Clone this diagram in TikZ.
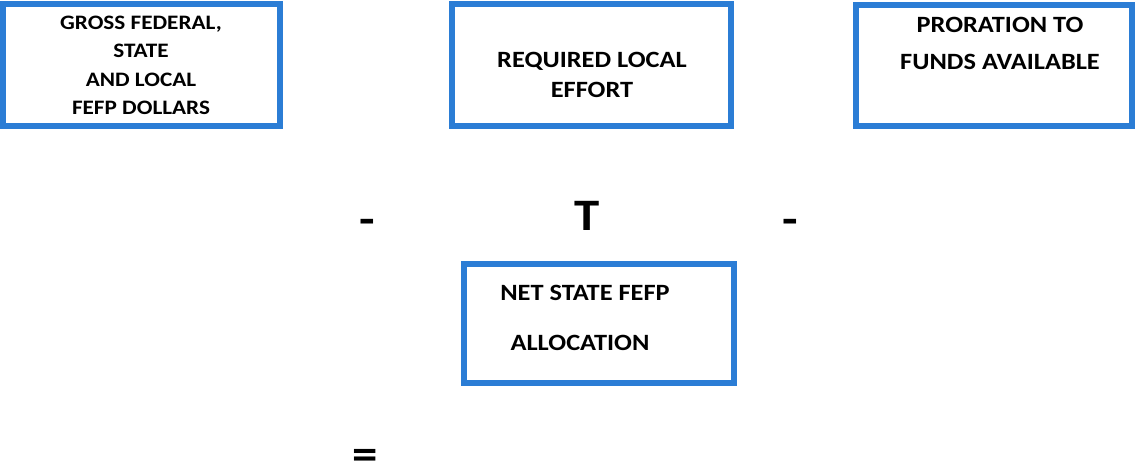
\documentclass[tikz,border=0pt]{standalone}
\usepackage{fontspec}
\setmainfont{Carlito}[FakeStretch=1.13]
\usepackage{tikz}
\definecolor{boxblue}{RGB}{43,125,213}

\begin{document}
\begin{tikzpicture}[
    x=0.025cm, y=-0.025cm,
    box/.style={
        draw=boxblue,
        line width=4.3pt,
        inner sep=0pt
    },
    txt/.style={
        font=\fontsize{16.6}{21.3}\selectfont\bfseries,
        align=center,
        inner sep=0pt
    },
    sym/.style={
        font=\fontsize{32}{32}\selectfont\bfseries,
        text height=0.41cm,
        text depth=0pt,
        inner sep=0pt
    }
]
\useasboundingbox (0,0) rectangle (1135,465);

% Top row
\node[box, minimum width=6.925cm, minimum height=3.04cm] (gross) at (141.5,65) {};
\node[box, minimum width=6.975cm, minimum height=3.05cm] (rle) at (591.5,65) {};
\node[box, minimum width=6.9cm, minimum height=3.025cm] (prorate) at (994,65.5) {};

\node[txt, font=\fontsize{14.6}{20.2}\selectfont\bfseries] (grossT) at (141,65.5) {GROSS FEDERAL,\\STATE\\AND LOCAL\\FEFP DOLLARS};
\node[txt] (rleT) at (592,75) {REQUIRED LOCAL\\EFFORT};
\node[txt, font=\fontsize{16.6}{26.3}\selectfont\bfseries] (prorateT) at (1000,43.5) {PRORATION TO\\FUNDS AVAILABLE};

% Operators
\node[sym] (minusA) at (367,226) {-};
\node[sym] (times) at (587,222) {T};
\node[sym] (minusB) at (790,226) {-};

% Result
\node[box, minimum width=6.75cm, minimum height=2.975cm] (net) at (599,323.5) {};
\node[txt] (netA) at (585,293) {NET STATE FEFP};
\node[txt] (netB) at (580,343) {ALLOCATION};

\node[sym, anchor=base] (equals) at (365,469.5) {=};

\end{tikzpicture}
\end{document}
